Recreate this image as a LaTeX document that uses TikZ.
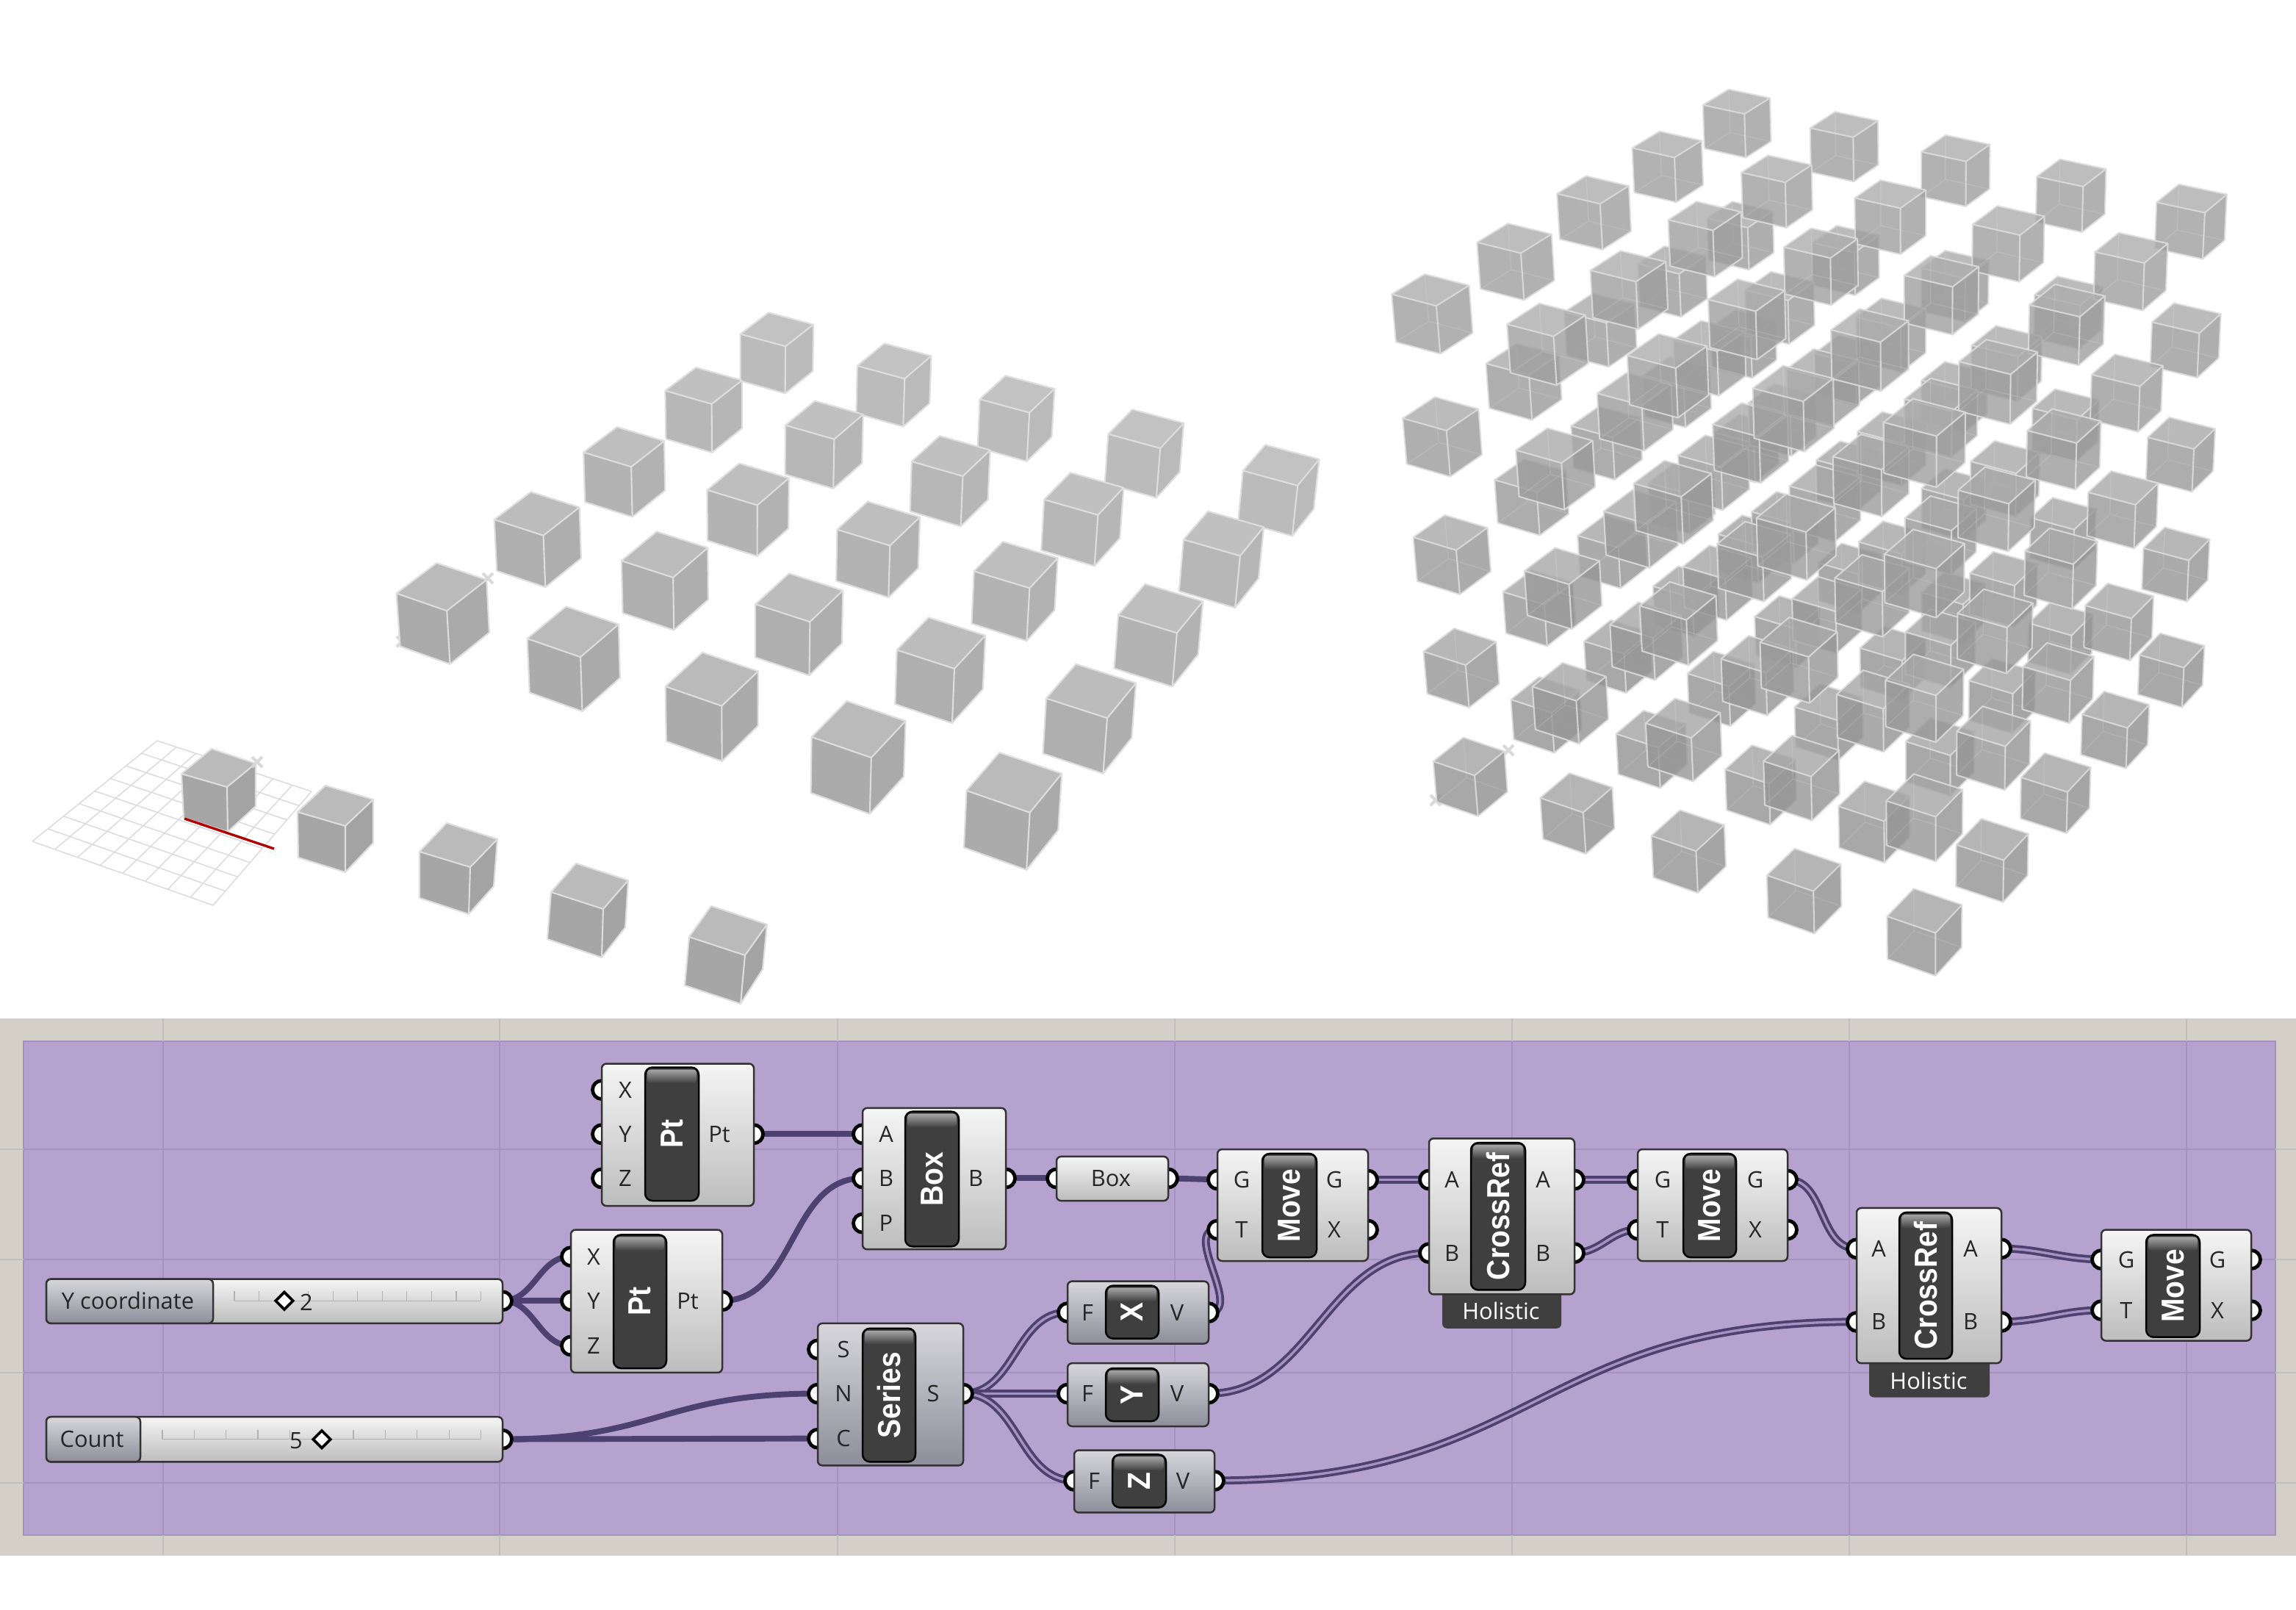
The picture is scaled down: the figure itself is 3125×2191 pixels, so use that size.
\documentclass[tikz,border=0pt]{standalone}
\usepackage{fontspec}
\setmainfont{Open Sans}
\newfontfamily\barfont{Liberation Sans}[BoldFont={Liberation Sans Bold},FakeStretch=0.9]
\usetikzlibrary{shapes.geometric,calc,backgrounds}
\pgfdeclarelayer{canvas}
\pgfsetlayers{canvas,main}
\definecolor{bandc}{HTML}{D4D0C8}
\definecolor{lilac}{HTML}{B6A2CE}
\definecolor{lilacl}{HTML}{A692C0}
\definecolor{wirec}{HTML}{4C4170}
\definecolor{barc}{HTML}{3F3F3F}
\definecolor{edgec}{HTML}{DEDEDE}
\definecolor{gt}{HTML}{D6D6DB}
\definecolor{gm}{HTML}{A6A6B0}
\definecolor{gb}{HTML}{8E8E9B}
\tikzset{
  x=0.24pt,y=-0.24pt,
  grip/.style={circle,fill=white,draw=black,line width=1.15pt,minimum size=6pt,inner sep=0pt},
  whitebody/.style={rectangle,rounded corners=1.5pt,draw=black!80,line width=.6pt,top color=black!4,middle color=black!10,bottom color=black!26},
  greybody/.style={rectangle,rounded corners=1.5pt,draw=black!80,line width=.6pt,top color=gt,middle color=gm,bottom color=gb},
  tagbody/.style={rectangle,rounded corners=1.5pt,fill=barc},
  barbody/.style={rectangle,rounded corners=2.4pt,fill=barc,draw=black,line width=.6pt},
  lab/.style={font=\fontsize{7.4}{8}\selectfont,text=black!85,inner sep=0pt},
  barlab/.style={font=\barfont\bfseries\fontsize{10.4}{11}\selectfont,text=white,rotate=90,inner sep=0pt},
  taglab/.style={font=\fontsize{7.4}{8}\selectfont,text=white,inner sep=0pt},
  knob/.style={diamond,draw=black,fill=white,line width=.9pt,minimum size=6pt,inner sep=0pt},
  wire/.style={draw=wirec,line width=1.9pt},
  dwire/.style={draw=wirec,line width=.9pt,double=lilacl,double distance=.8pt},
  tick/.style={draw=black!30,line width=.3pt},
  gridl/.style={draw=black!14,line width=.35pt},
  edge/.style={draw=edgec,line width=.5pt,line join=round},
  faint/.style={draw=white,line width=.35pt,draw opacity=.12},
  marker/.style={draw=black!15,line width=1pt},
}
\newcommand\gbox[6]{%
  \pgfmathsetmacro\cw{(#5-#3)*0.24}\pgfmathsetmacro\ch{(#6-#4)*0.24*0.9868}%
  \node[#1,minimum width=\cw pt,minimum height=\ch pt,inner sep=0pt,outer sep=0pt] (#2) at ({(#3+#5)/2},{(#4+#6)/2}) {};}
\newcommand\blackbar[6]{% name x1 y1 x2 y2 text
  \gbox{barbody}{#1}{#2}{#3}{#4}{#5}
  \shade[top color=black!35,bottom color=barc,rounded corners=1pt] (#2+3,#3+3) rectangle (#4-3,#3+22);
  \node[barlab] (#1t) at ({(#2+#4)/2},{(#3+#5)/2}) {#6};}
\newcommand\port[3]{\node[grip] (#1) at (#2,#3) {};}
\newcommand\lab[4]{\node[lab] (#1) at (#2,#3) {#4};}
\newcommand\pcube[7]{%
  \fill[black!27] #1 -- #2 -- #3 -- #4 -- cycle;
  \fill[black!35] #2 -- #3 -- #5 -- #6 -- cycle;
  \fill[black!36] #3 -- #4 -- #7 -- #5 -- cycle;
  \draw[edge] #1 -- #2 -- #3 -- #4 -- cycle #3 -- #5 -- #6 -- #2 #5 -- #7 -- #4;}
\newcommand\midp[4]{%
  \pgfmathsetmacro\hW{1-0.1059*#2+0.191*#3-0.0105*#4}%
  \pgfmathsetmacro\hX{500+(120+792*#2+650.6*#3-6.26*#4)/\hW/1.161}%
  \pgfmathsetmacro\hY{400+(695+310.9*#2-542.6*#3-122.3*#4)/\hW/1.6}%
  \coordinate (#1) at (\hX,\hY);}
\newcommand\latp[4]{%
  \pgfmathsetmacro\hW{1-0.0743*#2+0.122*#3-0.0774*#4}%
  \pgfmathsetmacro\hX{1850+(190+703.3*#2+558.5*#3-74.7*#4)/\hW/1.254}%
  \pgfmathsetmacro\hY{100+(1200+156.2*#2-289.5*#3-821.7*#4)/\hW/1.254}%
  \coordinate (#1) at (\hX,\hY);}
\newcommand\markx[2]{\draw[marker] (#1-7,#2-7) -- (#1+7,#2+7) (#1-7,#2+7) -- (#1+7,#2-7);}
\begin{document}
\begin{tikzpicture}
\useasboundingbox (0,0) rectangle (3125,2191);
\begin{pgfonlayer}{canvas}
\fill[white] (0,0) rectangle (3125,2191);
\end{pgfonlayer}
% ---------- base grid and row of boxes
\coordinate (ga) at (44,1145);\coordinate (gb) at (214,1008);\coordinate (gc) at (424,1077);\coordinate (gd) at (290,1232);
\foreach \tt in {0,0.125,...,1.01}{
  \draw[gridl] ($(ga)!\tt!(gb)$) -- ($(gd)!\tt!(gc)$);
  \draw[gridl] ($(ga)!\tt!(gd)$) -- ($(gb)!\tt!(gc)$);
}
\pcube{(288,1019)}{(247,1053)}{(309,1071)}{(348,1039)}{(310,1132)}{(250,1113)}{(348,1097)}
\coordinate (ra) at (251,1114);\coordinate (rb) at (373,1155);
\draw[draw=red!70!black,line width=.8pt] (ra) -- (rb);
\markx{350}{1037}
\pcube{(443,1069)}{(405,1105)}{(470,1124)}{(508,1088)}{(470,1187)}{(406,1167)}{(508,1147)}
\pcube{(608,1120)}{(571,1159)}{(640,1180)}{(677,1142)}{(638,1244)}{(571,1222)}{(672,1206)}
\pcube{(784,1175)}{(750,1214)}{(821,1237)}{(855,1198)}{(819,1303)}{(745,1278)}{(851,1262)}
\pcube{(968,1233)}{(938,1275)}{(1014,1300)}{(1044,1258)}{(1008,1366)}{(932,1341)}{(1038,1319)}
% ---------- middle layer of boxes
\markx{664}{787}\markx{547}{873}
\foreach \jj in {4,3,2,1,0}{\foreach \ii in {0,1,2,3,4}{
  \pgfmathsetmacro\um{\ii/4-0.049}\pgfmathsetmacro\uq{\ii/4+0.049}
  \pgfmathsetmacro\vm{\jj/4-0.05}\pgfmathsetmacro\vq{\jj/4+0.05}
  \pgfmathsetmacro\shl{33-1.6*\jj}\pgfmathsetmacro\sht{27-0.8*\jj}\pgfmathsetmacro\shr{33.5-1.6*\jj}
  \midp{T}{\um}{\vq}{0.5}\midp{L}{\um}{\vm}{0.5}\midp{C}{\uq}{\vm}{0.5}\midp{R}{\uq}{\vq}{0.5}
  \midp{F}{\uq}{\vm}{-0.5}\midp{BL}{\um}{\vm}{-0.5}\midp{BR}{\uq}{\vq}{-0.5}
  \fill[black!\sht!white] (T) -- (L) -- (C) -- (R) -- cycle;
  \fill[black!\shl!white] (L) -- (C) -- (F) -- (BL) -- cycle;
  \fill[black!\shr!white] (C) -- (R) -- (BR) -- (F) -- cycle;
  \draw[edge] (T) -- (L) -- (C) -- (R) -- cycle (C) -- (F) -- (BL) -- (L) (F) -- (BR) -- (R);
}}
% ---------- lattice of translucent boxes
\markx{2053}{1021}\markx{1954}{1089}
\foreach \kk in {0,1,2,3,4}{\foreach \jj in {4,3,2,1,0}{\foreach \ii in {0,1,2,3,4}{
  \pgfmathsetmacro\um{\ii/4-0.049}\pgfmathsetmacro\uq{\ii/4+0.049}
  \pgfmathsetmacro\vm{\jj/4-0.0475}\pgfmathsetmacro\vq{\jj/4+0.0475}
  \pgfmathsetmacro\wm{\kk/4-0.0475}\pgfmathsetmacro\wq{\kk/4+0.0475}
  \pgfmathsetmacro\sht{36-1*\kk}\pgfmathsetmacro\shl{42.5-1.2*\kk}\pgfmathsetmacro\shr{44-1.5*\kk}
  \latp{T}{\um}{\vq}{\wq}\latp{L}{\um}{\vm}{\wq}\latp{C}{\uq}{\vm}{\wq}\latp{R}{\uq}{\vq}{\wq}
  \latp{F}{\uq}{\vm}{\wm}\latp{BL}{\um}{\vm}{\wm}\latp{BR}{\uq}{\vq}{\wm}\latp{BB}{\um}{\vq}{\wm}
  \fill[black!\sht!white,fill opacity=.8] (T) -- (L) -- (C) -- (R) -- cycle;
  \fill[black!\shl!white,fill opacity=.8] (L) -- (C) -- (F) -- (BL) -- cycle;
  \fill[black!\shr!white,fill opacity=.8] (C) -- (R) -- (BR) -- (F) -- cycle;
  \draw[faint] (BB) -- (T) (BB) -- (BL) (BB) -- (BR);
  \draw[edge,draw opacity=.85] (T) -- (L) -- (C) -- (R) -- cycle (C) -- (F) -- (BL) -- (L) (F) -- (BR) -- (R);
}}}
\begin{scope}[shift={(0,18.7)},yscale=.9868]
% ---------- sliders
\port{ysl}{684}{1775}
\gbox{whitebody}{yslider}{63}{1745}{684}{1806}
\gbox{greybody}{ylabel}{63}{1745}{290}{1806}
\lab{yname}{174}{1775}{Y coordinate}
\foreach \tt in {0,1,...,10}{\draw[tick] (319+33.55*\tt,1762) -- (319+33.55*\tt,1775);}
\draw[tick] (319,1775) -- (654,1775);
\node[knob] (ydia) at (387,1775) {};
\lab{yval}{417}{1777}{2}
\port{csl}{684}{1966}
\gbox{whitebody}{cslider}{63}{1935}{684}{1997}
\gbox{greybody}{clabel}{63}{1935}{191}{1997}
\lab{cname}{125}{1966}{Count}
\foreach \tt in {0,1,...,10}{\draw[tick] (221+43.35*\tt,1953) -- (221+43.35*\tt,1966);}
\draw[tick] (221,1966) -- (654,1966);
\node[knob] (cdia) at (438,1966) {};
\lab{cval}{403}{1968}{5}
% ---------- Pt 1
\port{aX}{819}{1484}\port{aY}{819}{1545}\port{aZ}{819}{1606}\port{aP}{1026}{1545}
\gbox{whitebody}{pta}{819}{1448}{1026}{1644}
\blackbar{ptabar}{878}{1453}{951}{1637}{Pt}
\lab{alx}{851}{1484}{X}\lab{aly}{851}{1545}{Y}\lab{alz}{851}{1606}{Z}\lab{alp}{979}{1545}{Pt}
% ---------- Pt 2
\port{bX}{777}{1714}\port{bY}{777}{1775}\port{bZ}{777}{1837}\port{bP}{983}{1775}
\gbox{whitebody}{ptb}{777}{1677}{983}{1874}
\blackbar{ptbbar}{835}{1684}{907}{1868}{Pt}
\lab{blx}{808}{1714}{X}\lab{bly}{808}{1775}{Y}\lab{blz}{808}{1837}{Z}\lab{blp}{936}{1775}{Pt}
% ---------- Box
\port{cA}{1174}{1545}\port{cB}{1174}{1606}\port{cP}{1174}{1668}\port{cO}{1369}{1606}
\gbox{whitebody}{boxc}{1174}{1509}{1369}{1704}
\blackbar{boxbar}{1232}{1514}{1305}{1700}{Box}
\lab{cla}{1206}{1545}{A}\lab{clb}{1206}{1606}{B}\lab{clp}{1206}{1668}{P}\lab{clo}{1328}{1606}{B}
% ---------- Box parameter
\port{pI}{1438}{1606}\port{pO}{1590}{1606}
\gbox{whitebody}{boxp}{1438}{1576}{1590}{1637}
\lab{pl}{1512}{1606}{Box}
% ---------- Move 1
\port{m1G}{1657}{1608}\port{m1T}{1657}{1677}\port{m1g}{1862}{1608}\port{m1x}{1862}{1677}
\gbox{whitebody}{movea}{1657}{1566}{1862}{1720}
\blackbar{moveabar}{1718}{1572}{1792}{1715}{Move}
\lab{m1a}{1690}{1608}{G}\lab{m1b}{1690}{1677}{T}\lab{m1c}{1816}{1608}{G}\lab{m1d}{1816}{1677}{X}
% ---------- CrossRef 1
\port{x1A}{1945}{1608}\port{x1B}{1945}{1709}\port{x1a}{2143}{1608}\port{x1b}{2143}{1709}
\gbox{tagbody}{xatag}{1963}{1755}{2125}{1813}
\node[taglab] (xatagl) at (2043,1789) {Holistic};
\gbox{whitebody}{xa}{1945}{1551}{2143}{1766}
\blackbar{xabar}{2002}{1557}{2076}{1760}{CrossRef}
\lab{x1la}{1976}{1608}{A}\lab{x1lb}{1976}{1709}{B}\lab{x1lc}{2100}{1608}{A}\lab{x1ld}{2100}{1709}{B}
% ---------- Move 2
\port{m2G}{2229}{1608}\port{m2T}{2229}{1677}\port{m2g}{2433}{1608}\port{m2x}{2433}{1677}
\gbox{whitebody}{moveb}{2229}{1566}{2433}{1720}
\blackbar{movebbar}{2291}{1572}{2363}{1715}{Move}
\lab{m2a}{2263}{1608}{G}\lab{m2b}{2263}{1677}{T}\lab{m2c}{2389}{1608}{G}\lab{m2d}{2389}{1677}{X}
% ---------- CrossRef 2
\port{x2A}{2527}{1703}\port{x2B}{2527}{1804}\port{x2a}{2724}{1703}\port{x2b}{2724}{1804}
\gbox{tagbody}{xbtag}{2544}{1850}{2708}{1908}
\node[taglab] (xbtagl) at (2625,1885) {Holistic};
\gbox{whitebody}{xb}{2527}{1647}{2724}{1861}
\blackbar{xbbar}{2585}{1653}{2657}{1855}{CrossRef}
\lab{x2la}{2557}{1703}{A}\lab{x2lb}{2557}{1804}{B}\lab{x2lc}{2682}{1703}{A}\lab{x2ld}{2682}{1804}{B}
% ---------- Move 3
\port{m3G}{2860}{1718}\port{m3T}{2860}{1788}\port{m3g}{3064}{1718}\port{m3x}{3064}{1788}
\gbox{whitebody}{movec}{2860}{1677}{3064}{1830}
\blackbar{movecbar}{2921}{1684}{2994}{1825}{Move}
\lab{m3a}{2894}{1718}{G}\lab{m3b}{2894}{1788}{T}\lab{m3c}{3018}{1718}{G}\lab{m3d}{3018}{1788}{X}
% ---------- Series
\port{sS}{1113}{1842}\port{sN}{1113}{1903}\port{sC}{1113}{1965}\port{sO}{1311}{1903}
\gbox{greybody}{series}{1113}{1806}{1311}{2002}
\blackbar{seriesbar}{1174}{1813}{1246}{1997}{Series}
\lab{sls}{1148}{1842}{S}\lab{sln}{1148}{1903}{N}\lab{slc}{1148}{1965}{C}\lab{slo}{1270}{1903}{S}
% ---------- X Y Z
\port{xF}{1453}{1791}\port{xV}{1645}{1791}
\gbox{greybody}{fx}{1453}{1748}{1645}{1834}
\blackbar{fxbar}{1505}{1754}{1577}{1827}{X}
\lab{xlf}{1480}{1791}{F}\lab{xlv}{1602}{1791}{V}
\port{yF}{1453}{1903}\port{yV}{1645}{1903}
\gbox{greybody}{fy}{1453}{1861}{1645}{1948}
\blackbar{fybar}{1505}{1868}{1577}{1941}{Y}
\lab{ylf}{1480}{1903}{F}\lab{ylv}{1602}{1903}{V}
\port{zF}{1462}{2023}\port{zV}{1653}{2023}
\gbox{greybody}{fz}{1462}{1981}{1653}{2067}
\blackbar{fzbar}{1514}{1987}{1587}{2060}{Z}
\lab{zlf}{1489}{2023}{F}\lab{zlv}{1610}{2023}{V}
% ---------- canvas and wires
\begin{pgfonlayer}{canvas}
\fill[bandc] (0,1386) rectangle (3125,2126);
\fill[lilac] (32,1417) rectangle (3097,2098);
\draw[lilacl,line width=.4pt] (32,1417) rectangle (3097,2098);
\foreach \vv in {222,680,1140,1599,2058,2517,2976}{
  \draw[black!25,line width=.35pt] (\vv,1386) -- (\vv,1417);
  \draw[black!25,line width=.35pt] (\vv,2098) -- (\vv,2126);
  \draw[lilacl,line width=.35pt] (\vv,1417) -- (\vv,2098);}
\foreach \hh in {1566,1718,1874,2026}{
  \draw[lilacl,line width=.35pt] (32,\hh) -- (3097,\hh);
  \draw[black!25,line width=.35pt] (0,\hh) -- (32,\hh);
  \draw[black!25,line width=.35pt] (3097,\hh) -- (3125,\hh);}
\draw[wire] (aP.center) -- (cA.center);
\draw[wire] (bP.center) to[out=0,in=180] (cB.center);
\draw[wire] (ysl.center) to[out=0,in=180] (bX.center);
\draw[wire] (ysl.center) -- (bY.center);
\draw[wire] (ysl.center) to[out=0,in=180] (bZ.center);
\draw[wire] (csl.center) to[out=0,in=180,looseness=1.25] (sN.center);
\draw[wire] (csl.center) -- (sC.center);
\draw[wire] (cO.center) -- (pI.center);
\draw[wire] (pO.center) -- (m1G.center);
\draw[dwire] (sO.center) to[out=0,in=180] (xF.center);
\draw[dwire] (sO.center) -- (yF.center);
\draw[dwire] (sO.center) to[out=0,in=180] (zF.center);
\draw[dwire] (xV.center) to[out=0,in=180,looseness=1.1] (m1T.center);
\draw[dwire] (yV.center) to[out=0,in=180] (x1B.center);
\draw[dwire] (zV.center) to[out=0,in=180,looseness=1.25] (x2B.center);
\draw[dwire] (m1g.center) -- (x1A.center);
\draw[dwire] (x1a.center) -- (m2G.center);
\draw[dwire] (x1b.center) to[out=0,in=180] (m2T.center);
\draw[dwire] (m2g.center) to[out=0,in=180] (x2A.center);
\draw[dwire] (x2a.center) to[out=0,in=180] (m3G.center);
\draw[dwire] (x2b.center) to[out=0,in=180] (m3T.center);
\end{pgfonlayer}
\end{scope}
\end{tikzpicture}
\end{document}
